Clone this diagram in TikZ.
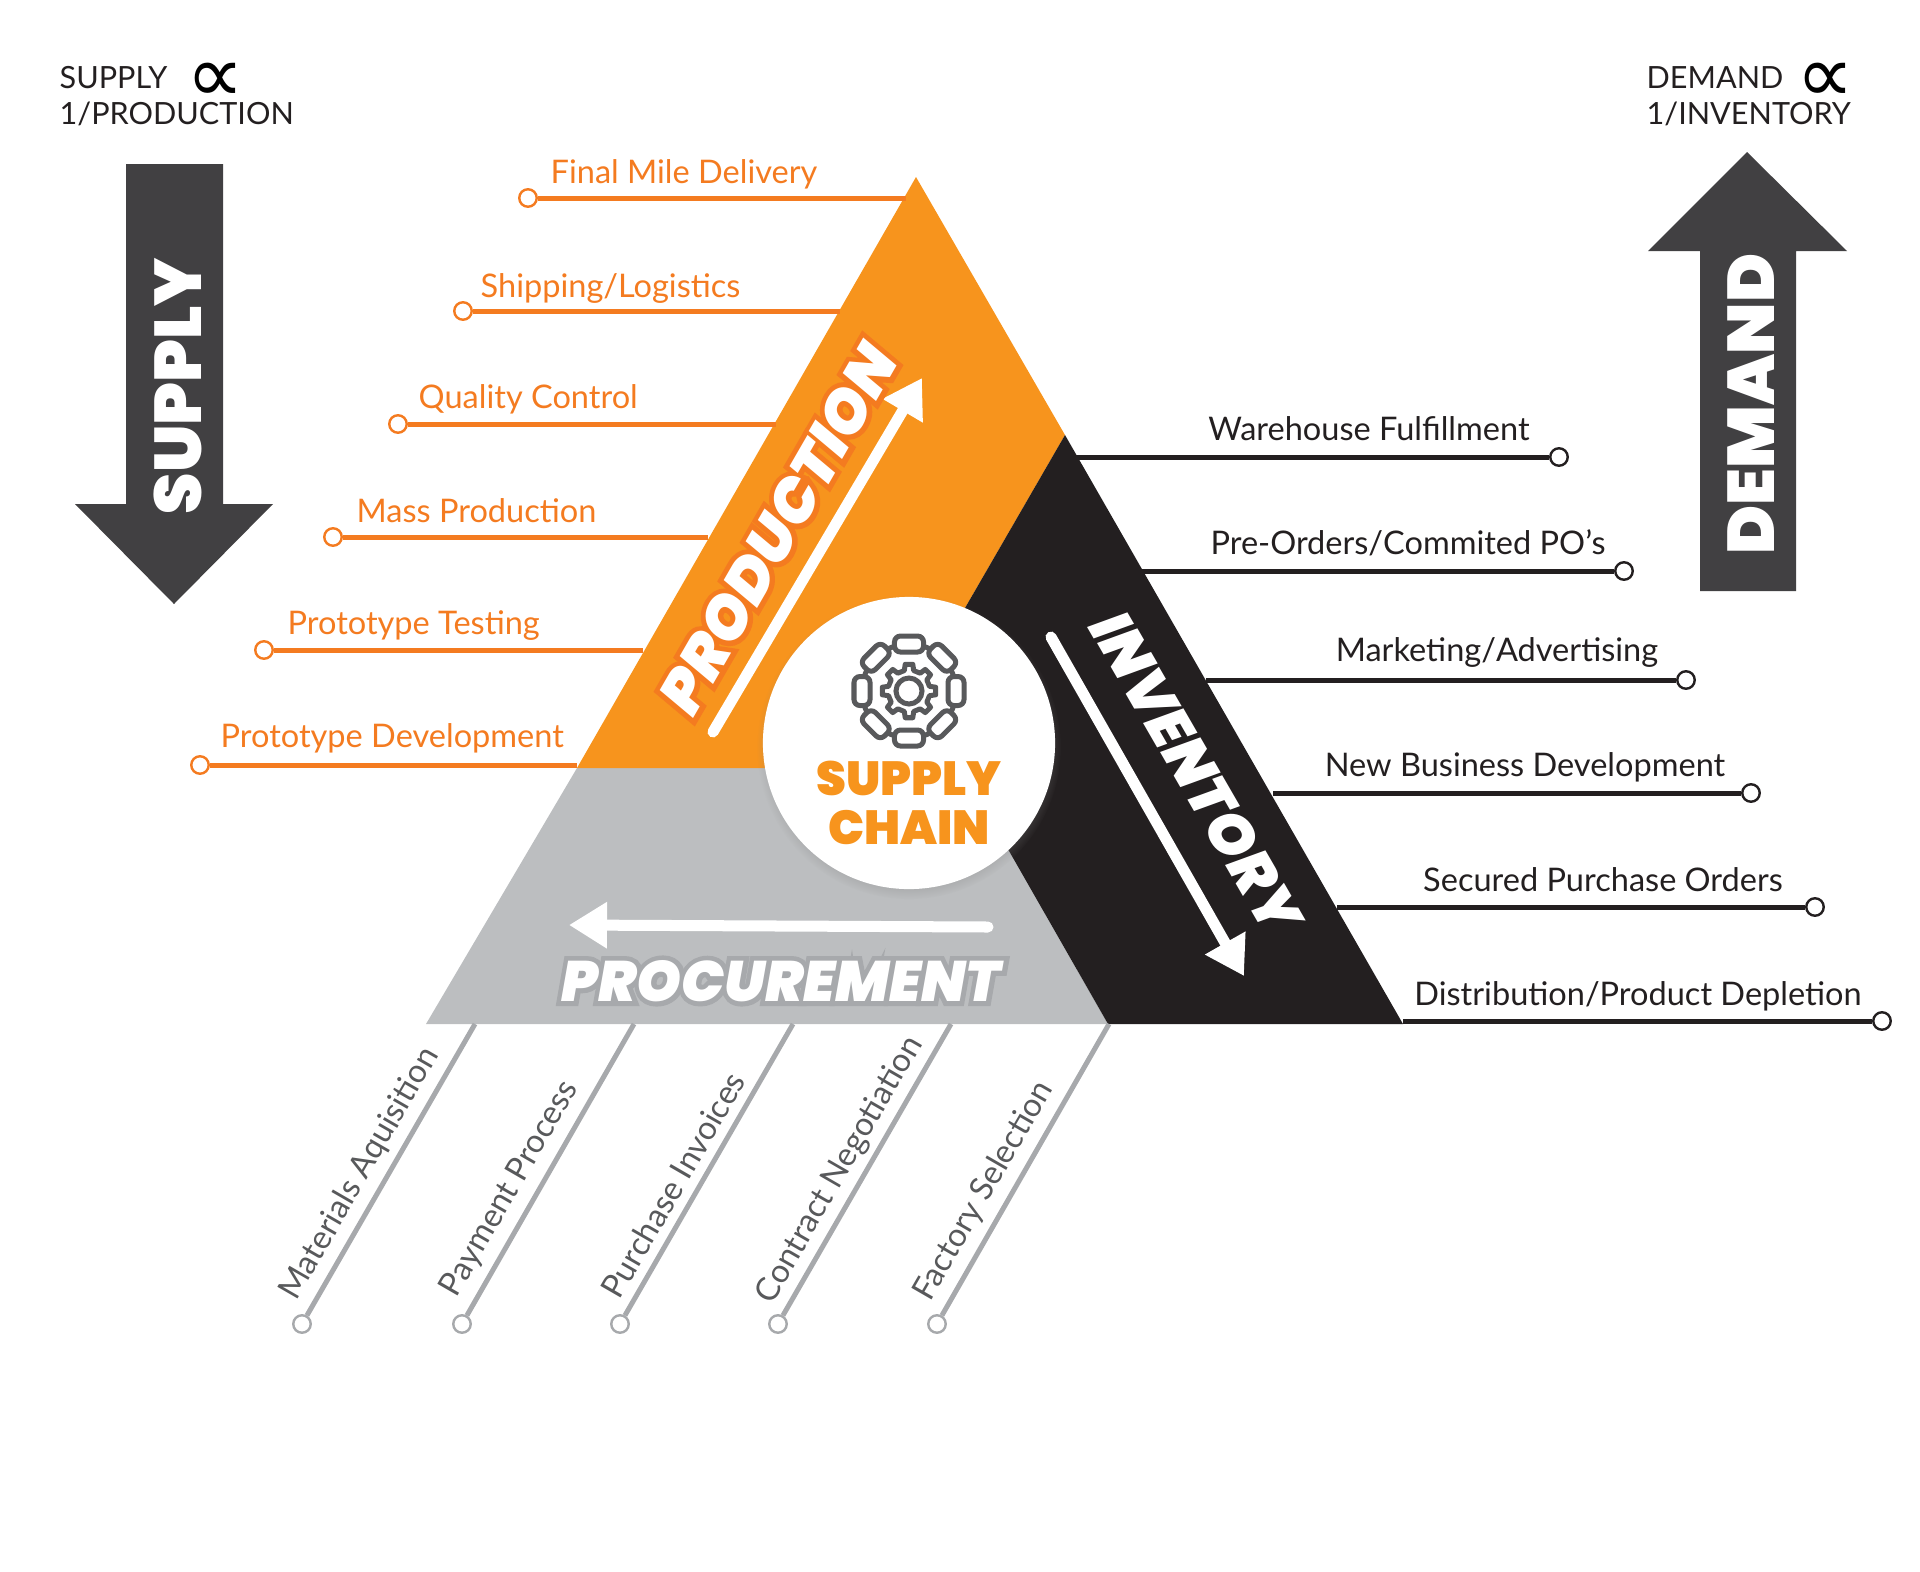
\documentclass[tikz,border=0pt]{standalone}
\usepackage{fontspec}
\usepackage{xcolor}
\setmainfont{Lato}
\newfontfamily\heavyfont{Poppins Black}
\newfontfamily\heavyslant{Poppins Black Italic}
\newfontfamily\haloslant{Poppins Black Italic}[FakeBold=17]
\newfontfamily\symbfont{DejaVu Sans}
\usetikzlibrary{calc,arrows.meta,shadows}
\definecolor{prodorange}{HTML}{F7941D}
\definecolor{lineorange}{HTML}{F47B20}
\definecolor{invblack}{HTML}{231F20}
\definecolor{procgrey}{HTML}{BCBEC0}
\definecolor{linegrey}{HTML}{A7A9AC}
\definecolor{textgrey}{HTML}{58595B}
\definecolor{arrowdark}{HTML}{414042}
\newcommand{\halotext}[2]{\rlap{\color{#1}\haloslant #2}{\heavyslant #2}}
\tikzset{
  lab/.style={inner sep=0pt,font=\fontsize{9.25}{11}\selectfont},
  ring/.style={circle,draw=#1,fill=white,line width=0.24mm,minimum size=1.75mm,inner sep=0pt},
  feed/.style={line width=0.5mm,draw=#1},
  bigarrow/.style={white,line width=1.1mm,line cap=round,-{Triangle[length=3.8mm,width=4.4mm]}},
  head/.style={inner sep=0pt,align=left,anchor=north west,text=invblack,font=\fontsize{8.7}{10.2}\selectfont},
  propsign/.style={inner sep=0pt,text=black,font=\symbfont\fontsize{23}{23}\selectfont},
  linkbox/.style={draw=textgrey,fill=white,line width=0.5mm,rounded corners=0.6mm,minimum width=2.9mm,minimum height=1.6mm,inner sep=0pt}
}
\begin{document}
\begin{tikzpicture}[x=0.01cm,y=-0.01cm]
  \useasboundingbox (0,0) rectangle (1920,1572);
  \coordinate (Apex)  at (916,177);
  \coordinate (ProdR) at (1065,435);
  \coordinate (ProdM) at (965,608);
  \coordinate (Hub)   at (909,743);
  \coordinate (HubB)  at (909,768);
  \coordinate (ProdL) at (577,768);
  \coordinate (GrayL) at (426,1024);
  \coordinate (GrayR) at (1108,1024);
  \coordinate (GrayM) at (981,802);
  \coordinate (InvR)  at (1403,1024);
  \fill[procgrey] (ProdL) -- (HubB) -- (GrayM) -- (GrayR) -- (GrayL) -- cycle;
  \fill[prodorange] (Apex) -- (ProdR) -- (ProdM) -- (Hub) -- (HubB) -- (ProdL) -- cycle;
  \fill[invblack] (ProdR) -- (InvR) -- (GrayR) -- (GrayM) -- (Hub) -- (ProdM) -- cycle;

  % Production feeders on the left
  \foreach \i/\rx/\ex/\ly/\tx/\by/\txt in {
    1/528/906/198/550/183/Final Mile Delivery,
    2/463/840/311/480/297/Shipping\slash Logistics,
    3/398/776/424/418/408/Quality Control,
    4/333/708/537/356/522/Mass Production,
    5/264/643/650/287/634/Prototype Testing,
    6/200/577/765/220/747/Prototype Development}{
    \node[ring=lineorange] (pring\i) at (\rx,\ly) {};
    \coordinate (pend\i) at (\ex,\ly);
    \draw[feed=lineorange] (pring\i) -- (pend\i);
    \node[lab,text=lineorange,anchor=base west] (plab\i) at (\tx,\by) {\txt};
  }
  % Inventory feeders on the right
  \foreach \i/\rx/\ex/\ly/\tx/\by/\txt in {
    1/1559/1071/457/1369/440/Warehouse Fulfillment,
    2/1624/1139/571/1408/554/Pre-Orders\slash Commited PO’s,
    3/1686/1206/680/1497/661/Marketing\slash Advertising,
    4/1751/1273/793/1525/776/New Business Development,
    5/1815/1337/907/1603/891/Secured Purchase Orders,
    6/1882/1403/1021/1638/1005/Distribution\slash Product Depletion}{
    \node[ring=invblack] (iring\i) at (\rx,\ly) {};
    \coordinate (iend\i) at (\ex,\ly);
    \draw[feed=invblack] (iring\i) -- (iend\i);
    \node[lab,text=invblack,anchor=base] (ilab\i) at (\tx,\by) {\txt};
  }
  % Procurement feeders below
  \foreach \i/\rx/\ex/\cx/\cy/\txt in {
    1/302/475/360/1174/Materials Aquisition,
    2/462/634/510/1189/Payment Process,
    3/620/793/673/1185/Purchase Invoices,
    4/778/951/840/1170/Contract Negotiation,
    5/937/1109/984/1191/Factory Selection}{
    \node[ring=linegrey] (gring\i) at (\rx,1324) {};
    \coordinate (gend\i) at (\ex,1024);
    \draw[feed=linegrey] (gring\i) -- (gend\i);
    \node[lab,text=textgrey,rotate=60] (glab\i) at (\cx,\cy) {\txt};
  }

  % Supply and demand arrows
  \fill[arrowdark] (126,164) -- (223,164) -- (223,504) -- (273,504) -- (174,604) -- (75,504) -- (126,504) -- cycle;
  \fill[arrowdark] (1700,591) -- (1796,591) -- (1796,251) -- (1847,251) -- (1747,152) -- (1648,251) -- (1700,251) -- cycle;
  \node[text=white,rotate=90,inner sep=0pt,font=\heavyfont\fontsize{18.8}{19}\selectfont] (supplyw) at (178,386) {SUPPLY};
  \node[text=white,rotate=90,inner sep=0pt,font=\heavyfont\fontsize{18.8}{19}\selectfont] (demandw) at (1751,404) {DEMAND};
  \node[head] (supplyh) at (59,66) {SUPPLY\\1/PRODUCTION};
  \node[head] (demandh) at (1646,66) {DEMAND\\1/INVENTORY};
  \node[propsign] (supplyp) at (215,83) {∝};
  \node[propsign] (demandp) at (1825,83) {∝};

  % White flow arrows and titles
  \coordinate (prodA) at (713,732);
  \coordinate (prodB) at (922,378);
  \draw[bigarrow] (prodA) -- (prodB);
  \coordinate (invA) at (1051,637);
  \coordinate (invB) at (1244,976);
  \draw[bigarrow] (invA) -- (invB);
  \coordinate (procA) at (988,927);
  \coordinate (procB) at (569,925);
  \draw[bigarrow] (procA) -- (procB);
  \node[text=white,rotate=60,inner sep=0pt,font=\fontsize{17.2}{17}\selectfont] (prodw) at (778,529) {\halotext{lineorange}{PRODUCTION}};
  \node[text=white,rotate=-60,inner sep=0pt,font=\heavyslant\fontsize{17}{17}\selectfont] (invw) at (1196,772) {INVENTORY};
  \node[text=white,inner sep=0pt,font=\fontsize{16.2}{16}\selectfont] (procw) at (781,981) {\halotext{linegrey}{PROCUREMENT}};

  % Centre disc with the chain and gear
  \node[circle,fill=white,minimum size=2.92cm,inner sep=0pt,
        circular drop shadow={shadow xshift=0pt,shadow yshift=-0.4mm,shadow scale=1.04,opacity=.5}] (disc) at (909,743) {};
  \coordinate (GearC) at (909,691);
  \begin{scope}[shift={(GearC)}]
    \node[circle,draw=textgrey,line width=0.5mm,minimum size=0.94cm,inner sep=0pt] (chainloop) at (0,0) {};
    \foreach \a in {0,45,...,315}{
      \node[linkbox,rotate=90-\a] (link\a) at (\a:47) {};
    }
    \draw[textgrey,line width=0.5mm,line join=round] (-13:21)
      \foreach \a in {0,45,...,315}{
        -- (\a-13:21) -- (\a-8:27) -- (\a+8:27) -- (\a+13:21)
      } -- cycle;
    \node[circle,draw=textgrey,line width=0.5mm,minimum size=0.26cm,inner sep=0pt] (gearhole) at (0,0) {};
  \end{scope}
  \node[text=prodorange,inner sep=0pt,align=center,font=\heavyfont\fontsize{13.6}{14}\selectfont] (disclab) at (909,803) {SUPPLY\\CHAIN};
\end{tikzpicture}
\end{document}
